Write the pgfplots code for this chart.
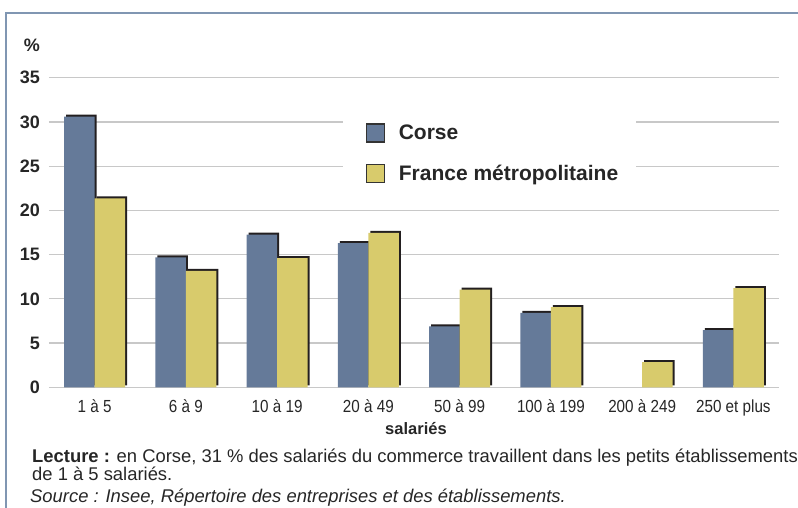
\documentclass[border=0pt]{standalone}
\usepackage{fontspec}
\setmainfont{Liberation Sans}
\newfontfamily\narrowfont[FakeStretch=0.87]{Liberation Sans}
\usepackage{pgfplots}
\pgfplotsset{compat=1.18}
\usetikzlibrary{shadows}
\definecolor{corse}{RGB}{101,122,153}
\definecolor{france}{RGB}{216,203,108}
\definecolor{cadre}{RGB}{128,150,178}
\definecolor{grille}{RGB}{200,200,200}
\definecolor{ombre}{RGB}{35,31,32}

\begin{document}
\begin{tikzpicture}[x=1bp,y=1bp]
\begin{pgfinterruptboundingbox}
% cadre
\draw[cadre, line width=2.2bp] (-43,-200) -- (-43,374.3) -- (820,374.3);
\begin{axis}[
    scale only axis,
    width=730bp, height=309.6bp,
    xmin=-0.5, xmax=7.5,
    ymin=0, ymax=35,
    ybar=0pt, bar width=0.334,
    xtick={0,...,7},
    xticklabels={1 à 5, 6 à 9, 10 à 19, 20 à 49, 50 à 99, 100 à 199, 200 à 249, 250 et plus},
    ytick={0,5,...,35},
    ymajorgrids,
    grid style={line width=1.3bp, draw=grille},
    axis line style={draw=none},
    major tick length=0pt,
    /pgf/number format/assume math mode=true,
    yticklabel style={font=\bfseries\fontsize{18bp}{18bp}\selectfont, anchor=east, inner sep=0pt, xshift=-9bp, text=black!85},
    xticklabel style={font=\narrowfont\fontsize{17.5bp}{17.5bp}\selectfont, anchor=north, inner sep=0pt, yshift=-12bp, text=black!85},
    clip=false,
    legend style={draw=none, fill=none, inner sep=0pt, at={(0.434,0.853)}, anchor=north west,
        font=\bfseries\fontsize{21bp}{21bp}\selectfont, text=black!85,
        row sep=21bp, nodes={inner sep=0pt}, cells={anchor=west}},
    legend image code/.code={%
        \draw[#1, draw=black!80, line width=1.2bp] (0bp,-9bp) rectangle (18bp,9bp);
        \path (32bp,0bp);},
]
\fill[white] (rel axis cs:0.4027,0.637) rectangle (rel axis cs:0.8041,0.944);

\addplot[forget plot, fill=corse, draw=none, bar shift=-0.167,
    general shadow={fill=ombre, shadow xshift=2bp, shadow yshift=2bp}]
    coordinates {(0,30.6) (1,14.7) (2,17.25) (3,16.3) (4,6.9) (5,8.4) (7,6.45)};
\addplot[forget plot, fill=france, draw=none, bar shift=0.167,
    general shadow={fill=ombre, shadow xshift=2bp, shadow yshift=2bp}]
    coordinates {(0,21.35) (1,13.15) (2,14.6) (3,17.45) (4,11.05) (5,9.05) (6,2.85) (7,11.2)};
\addlegendimage{fill=corse}
\addlegendentry{Corse}
\addlegendimage{fill=france}
\addlegendentry{France métropolitaine}

\node[font=\bfseries\fontsize{18bp}{18bp}\selectfont, text=black!85] at (rel axis cs:-0.0233,1.1056) {\%};
\node[font=\bfseries\fontsize{16.5bp}{16.5bp}\selectfont, text=black!85] at (rel axis cs:0.5027,-0.1347) {salariés};
\end{axis}
\node[anchor=base west, font=\fontsize{18.4bp}{18.4bp}\selectfont, text=black!85, inner sep=0pt] at (-17,-75.7)
    {\textbf{Lecture :} en Corse, 31 \% des salariés du commerce travaillent dans les petits établissements};
\node[anchor=base west, font=\fontsize{18.4bp}{18.4bp}\selectfont, text=black!85, inner sep=0pt] at (-17,-93.7)
    {de 1 à 5 salariés.};
\node[anchor=base west, font=\itshape\fontsize{18.4bp}{18.4bp}\selectfont, text=black!85, inner sep=0pt] at (-19,-115.7)
    {Source : Insee, Répertoire des entreprises et des établissements.};
\end{pgfinterruptboundingbox}
\useasboundingbox (-49,-120.7) rectangle (749,387.3);
\end{tikzpicture}
\end{document}
